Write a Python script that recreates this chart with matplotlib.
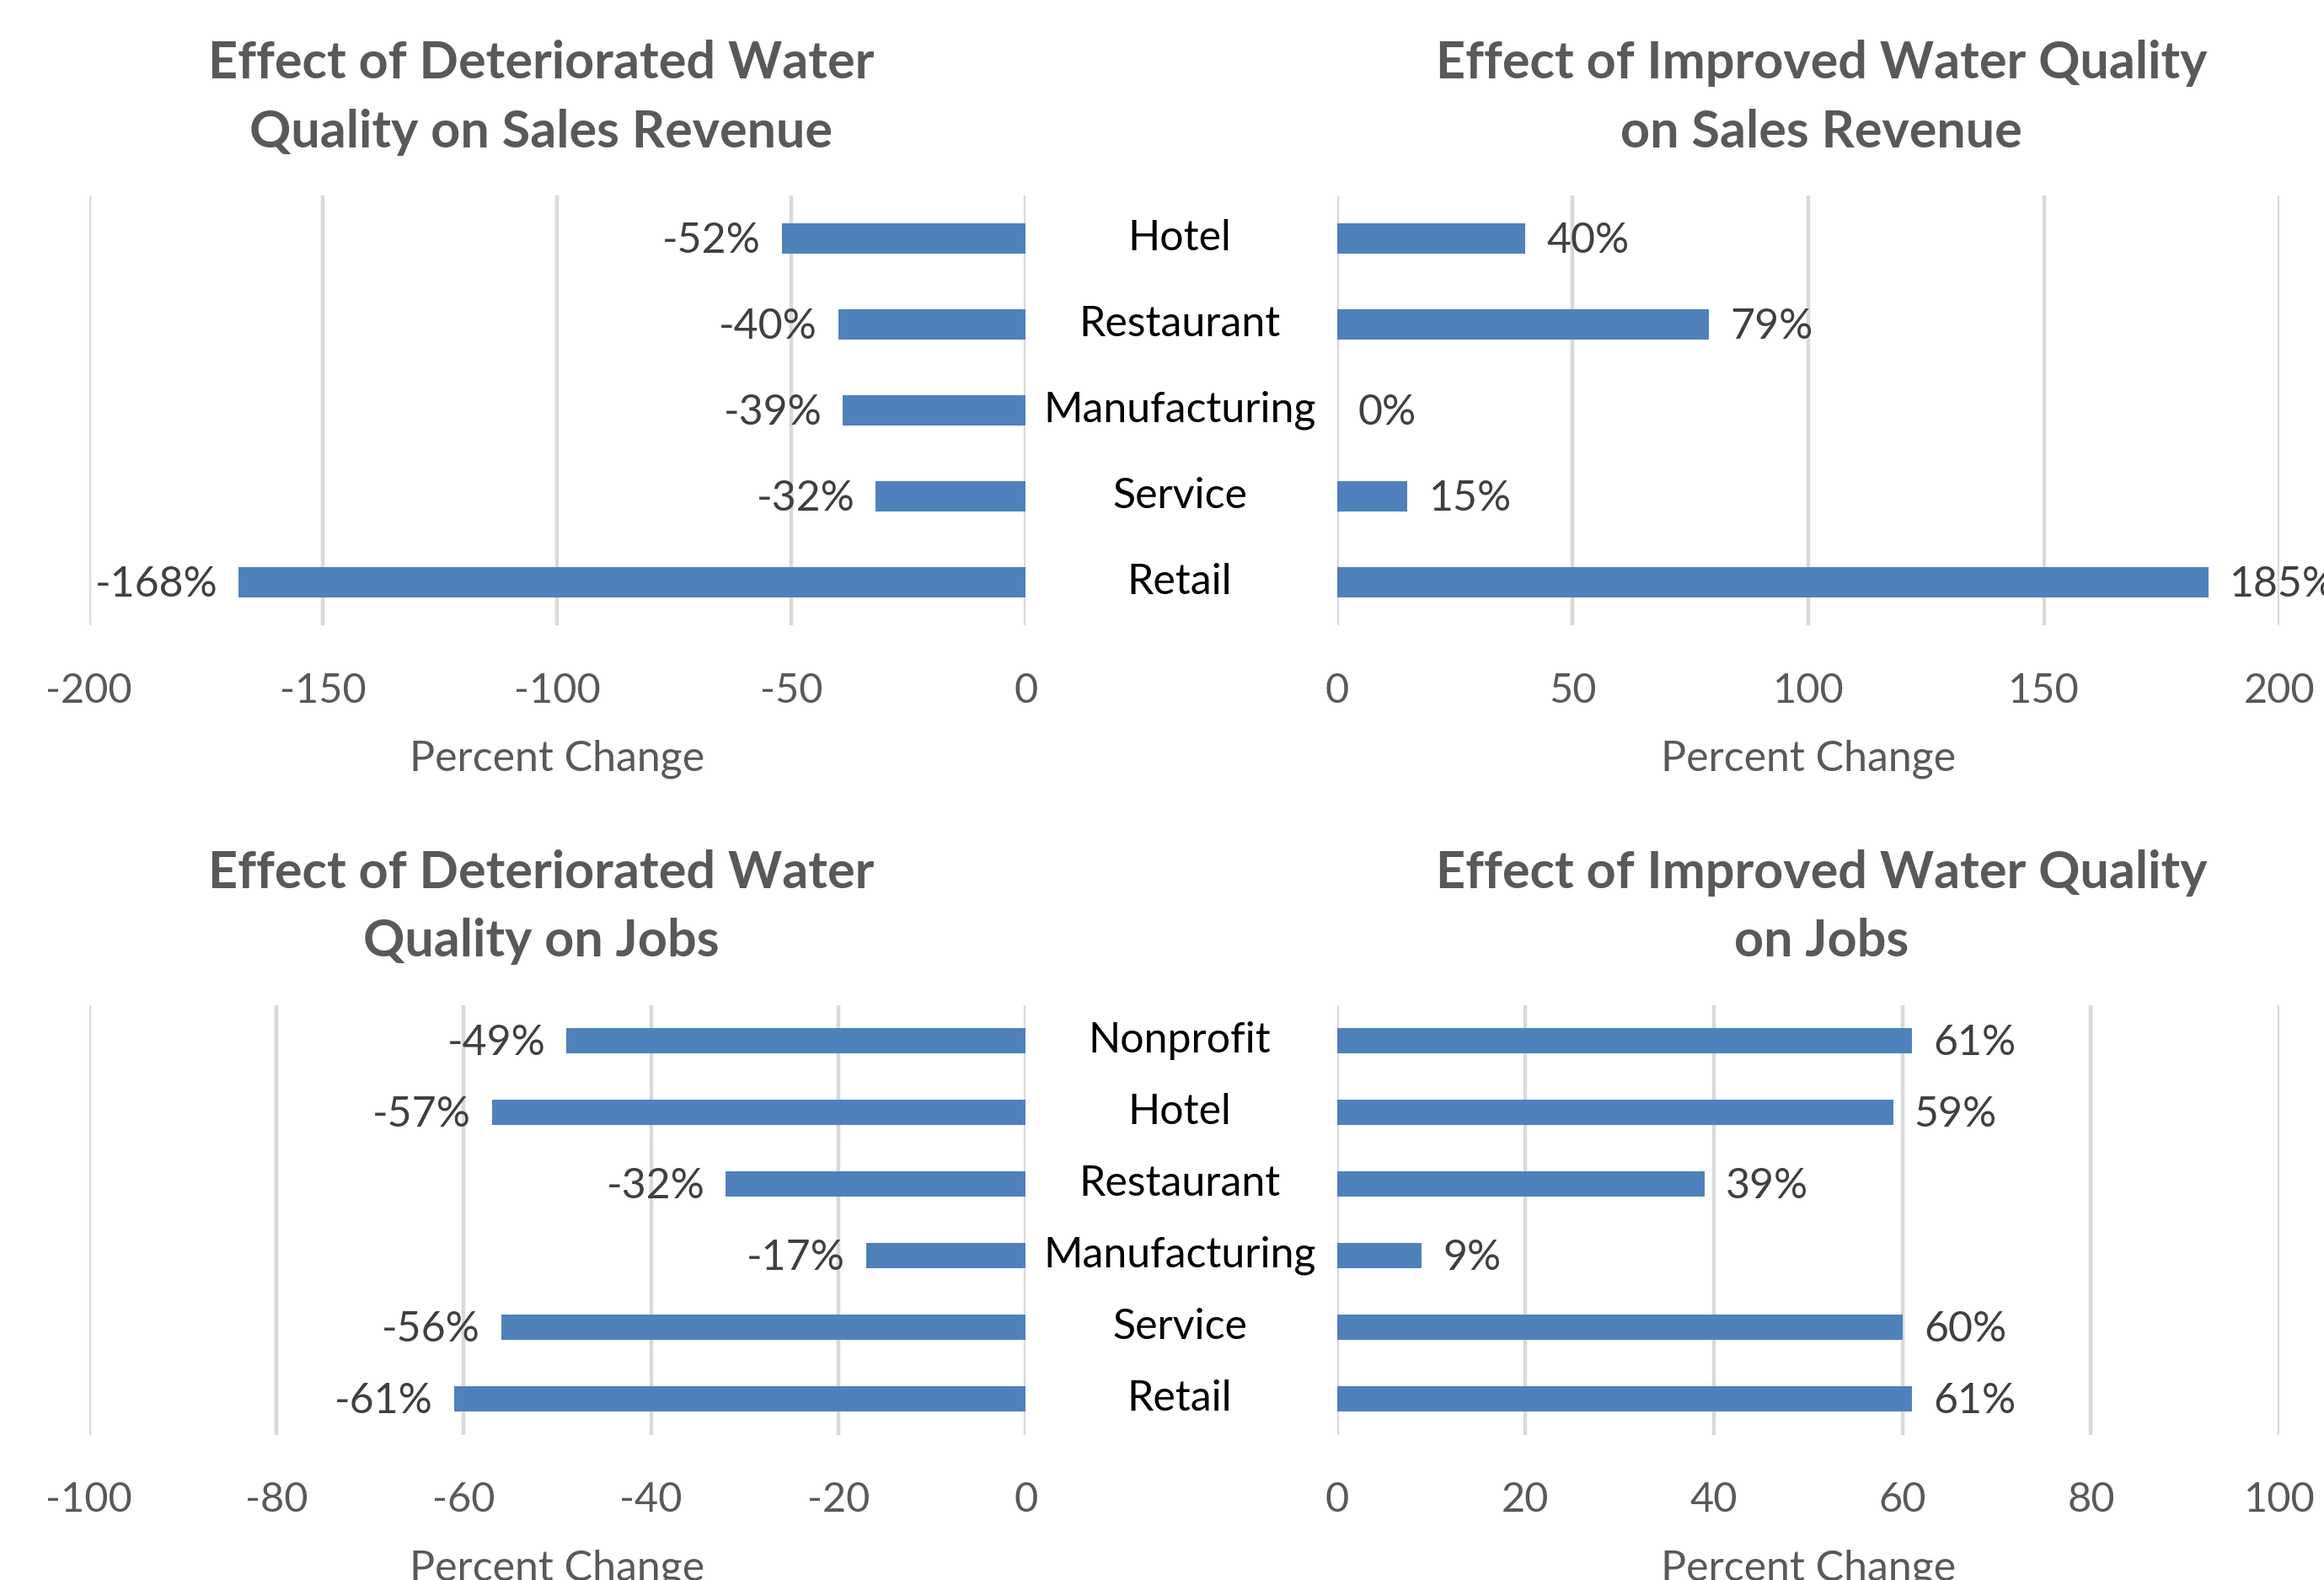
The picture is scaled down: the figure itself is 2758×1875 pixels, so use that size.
import matplotlib
matplotlib.use("Agg")
import matplotlib.pyplot as plt
from matplotlib.transforms import blended_transform_factory
from matplotlib.ticker import FuncFormatter

plt.rcParams['font.family'] = ['Lato', 'DejaVu Sans']
plt.rcParams['axes.unicode_minus'] = False

sales_categories = ["Hotel", "Restaurant", "Manufacturing", "Service", "Retail"]
sales_deteriorated = [-52, -40, -39, -32, -168]
sales_improved = [40, 79, 0, 15, 185]

jobs_categories = ["Nonprofit", "Hotel", "Restaurant", "Manufacturing", "Service", "Retail"]
jobs_deteriorated = [-49, -57, -32, -17, -56, -61]
jobs_improved = [61, 59, 39, 9, 60, 61]

sales_ticks_left = [-200, -150, -100, -50, 0]
sales_ticks_right = [0, 50, 100, 150, 200]
jobs_ticks_left = [-100, -80, -60, -40, -20, 0]
jobs_ticks_right = [0, 20, 40, 60, 80, 100]

titles = [
    "Effect of Deteriorated Water\nQuality on Sales Revenue",
    "Effect of Improved Water Quality\non Sales Revenue",
    "Effect of Deteriorated Water\nQuality on Jobs",
    "Effect of Improved Water Quality\non Jobs",
]

BAR = "#4F81BD"
GRID = "#D9D9D9"
TXT = "#595959"
LBL = "#404040"

W, H = 2758, 1875
DPI = 200
fig = plt.figure(figsize=(W / DPI, H / DPI), dpi=DPI)

SW, SH = 1568.0, 1066.0
def fx(x):
    return x / SW
def fy(y):
    return 1 - y / SH

L0, L1 = fx(60), fx(692)
R0, R1 = fx(902), fx(1538)

def make_axes(x0, x1, ytop, ybot):
    return fig.add_axes([x0, fy(ybot), x1 - x0, fy(ytop) - fy(ybot)])

fmt = FuncFormatter(lambda v, p: "%d" % v)

def style(ax, xlim, ticks, ncat):
    ax.set_xlim(*xlim)
    ax.set_ylim(ncat - 0.5, -0.5)
    ax.set_xticks(ticks)
    ax.xaxis.set_major_formatter(fmt)
    ax.set_yticks([])
    for s in ax.spines.values():
        s.set_visible(False)
    ax.grid(axis='x', color=GRID, linewidth=1.6)
    ax.set_axisbelow(True)
    ax.tick_params(axis='x', length=0, pad=20, labelsize=17.5, labelcolor=TXT)
    ax.set_xlabel("Percent Change", fontsize=18, color=TXT, labelpad=13)

def draw(ax, cats, vals, side):
    y = list(range(len(cats)))
    ax.barh(y, vals, height=0.35, color=BAR, zorder=3)
    for yi, v in zip(y, vals):
        if side == 'left':
            ax.annotate("%d%%" % v, (v, yi), xytext=(-9, -1), textcoords='offset points',
                        ha='right', va='center', fontsize=18, color=LBL)
        else:
            ax.annotate("%d%%" % v, (v, yi), xytext=(9, -1), textcoords='offset points',
                        ha='left', va='center', fontsize=18, color=LBL, annotation_clip=False)

# Top row
ax1 = make_axes(L0, L1, 132, 422)
ax2 = make_axes(R0, R1, 132, 422)
draw(ax1, sales_categories, sales_deteriorated, 'left')
draw(ax2, sales_categories, sales_improved, 'right')
style(ax1, (-200, 0), sales_ticks_left, len(sales_categories))
style(ax2, (0, 200), sales_ticks_right, len(sales_categories))

# Bottom row
ax3 = make_axes(L0, L1, 678, 968)
ax4 = make_axes(R0, R1, 678, 968)
draw(ax3, jobs_categories, jobs_deteriorated, 'left')
draw(ax4, jobs_categories, jobs_improved, 'right')
style(ax3, (-100, 0), jobs_ticks_left, len(jobs_categories))
style(ax4, (0, 100), jobs_ticks_right, len(jobs_categories))

# Category labels between panels
cx = fx(796)
for ax, cats in ((ax1, sales_categories), (ax3, jobs_categories)):
    tr = blended_transform_factory(fig.transFigure, ax.transData)
    for i, c in enumerate(cats):
        ax.text(cx, i, c, transform=tr, ha='center', va='center', fontsize=18, color='black')

# Titles
for (x, y), t in zip([(365, 66), (1229, 66), (365, 612), (1229, 612)], titles):
    fig.text(fx(x), fy(y), t, ha='center', va='center', fontsize=22, fontweight='bold',
             color=TXT, linespacing=1.55)

fig.savefig("out.png", dpi=DPI)
